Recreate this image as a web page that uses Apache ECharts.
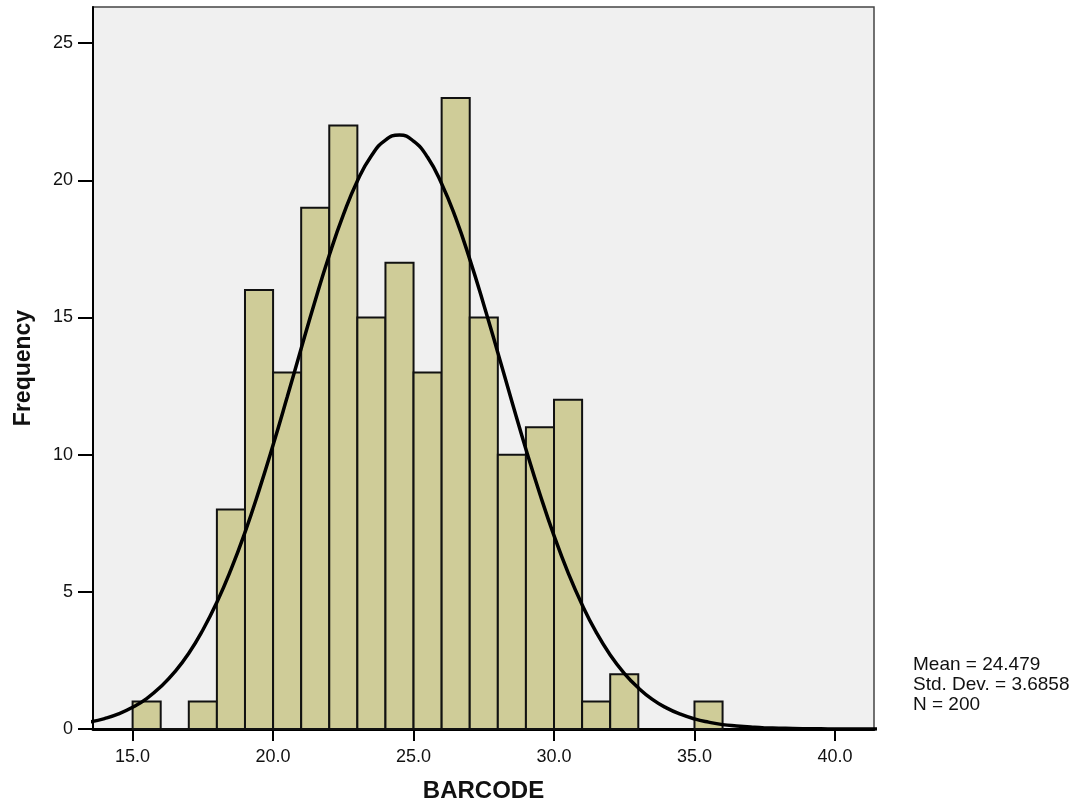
<!DOCTYPE html>
<html>
<head>
<meta charset="utf-8">
<script src="https://cdn.jsdelivr.net/npm/echarts@6/dist/echarts.min.js"></script>
<style>html,body{margin:0;padding:0;background:#fff;overflow:hidden}#c{width:1085px;height:808px}</style>
</head>
<body>
<div id="c"></div>
<script>
// Histogram bins (lower edge, bin width 1) and counts
const binStarts = [15, 16, 17, 18, 19, 20, 21, 22, 23, 24, 25, 26, 27, 28, 29, 30, 31, 32, 35];
const counts    = [1, 0, 1, 8, 16, 13, 19, 22, 15, 17, 13, 23, 15, 10, 11, 12, 1, 2, 1];
const binWidth = 1;

// Normal curve points
const curveX = [13.5,14,14.5,15,15.5,16,16.5,17,17.5,18,18.5,19,19.5,20,20.5,21,21.5,22,22.5,23,23.5,24,24.5,25,25.5,26,26.5,27,27.5,28,28.5,29,29.5,30,30.5,31,31.5,32,32.5,33,33.5,34,34.5,35,35.5,36,36.5,37,37.5,38,38.5,39,39.5,40,40.5,41,41.5];
const curveY = [0.26,0.38,0.55,0.79,1.11,1.54,2.08,2.76,3.61,4.62,5.81,7.17,8.70,10.35,12.09,13.87,15.62,17.27,18.74,19.98,20.90,21.47,21.65,21.43,20.84,19.88,18.63,17.13,15.47,13.72,11.94,10.20,8.56,7.05,5.70,4.53,3.53,2.70,2.03,1.50,1.08,0.77,0.54,0.37,0.25,0.16,0.11,0.07,0.04,0.03,0.016,0.009,0.005,0.003,0.002,0.001,0.0005];

const xTicks = [15, 20, 25, 30, 35, 40];
const yTicks = [0, 5, 10, 15, 20, 25];
const statsLines = ['Mean = 24.479', 'Std. Dev. = 3.6858', 'N = 200'];
const xTitle = 'BARCODE';
const yTitle = 'Frequency';

const chart = echarts.init(document.getElementById('c'), null, {renderer: 'canvas', width: 1085, height: 808});
const font = 'Arial, "Liberation Sans", sans-serif';

chart.setOption({
  animation: false,
  backgroundColor: '#ffffff',
  grid: {
    left: 93, width: 781, top: 7, height: 730,
    show: true, backgroundColor: '#f0f0f0', borderColor: '#444', borderWidth: 1.5
  },
  xAxis: {
    type: 'value', min: 13.59, max: 41.39,
    splitLine: {show: false},
    axisLine: {onZero: false, lineStyle: {color: '#000', width: 3}},
    axisTick: {show: true, customValues: xTicks, length: 12, inside: false, lineStyle: {color: '#000', width: 2}},
    axisLabel: {customValues: xTicks, formatter: v => v.toFixed(1), color: '#111', fontSize: 18, fontFamily: font, margin: 19},
    name: xTitle, nameLocation: 'middle', nameGap: 50,
    nameTextStyle: {fontSize: 24, fontWeight: 'bold', color: '#111', fontFamily: font}
  },
  yAxis: {
    type: 'value', min: 0, max: 26.32,
    splitLine: {show: false},
    axisLine: {show: true, onZero: false, lineStyle: {color: '#000', width: 2}},
    axisTick: {show: true, customValues: yTicks, length: 15, lineStyle: {color: '#000', width: 2}},
    axisLabel: {customValues: yTicks, color: '#111', fontSize: 18, fontFamily: font, margin: 20},
    name: yTitle, nameLocation: 'middle', nameGap: 58, nameRotate: 90,
    nameTextStyle: {fontSize: 23, fontWeight: 'bold', color: '#111', fontFamily: font}
  },
  series: [
    {
      type: 'custom',
      data: binStarts.map((s, i) => [s, counts[i]]),
      renderItem: function (params, api) {
        const x0 = api.value(0);
        const c = api.value(1);
        const p1 = api.coord([x0, c]);
        const p2 = api.coord([x0 + binWidth, 0]);
        return {
          type: 'rect',
          shape: {x: p1[0], y: p1[1], width: p2[0] - p1[0], height: p2[1] - p1[1]},
          style: {fill: '#cfcc98', stroke: '#111', lineWidth: 2}
        };
      },
      z: 2
    },
    {
      type: 'line',
      data: curveX.map((x, i) => [x, curveY[i]]),
      smooth: true,
      showSymbol: false,
      clip: true,
      lineStyle: {color: '#000', width: 3.5},
      z: 3
    }
  ],
  graphic: [{
    type: 'text', left: 913, top: 655,
    style: {text: statsLines.join('\n'), fontSize: 19, lineHeight: 20, fill: '#111', fontFamily: font}
  }]
});
</script>
</body>
</html>
